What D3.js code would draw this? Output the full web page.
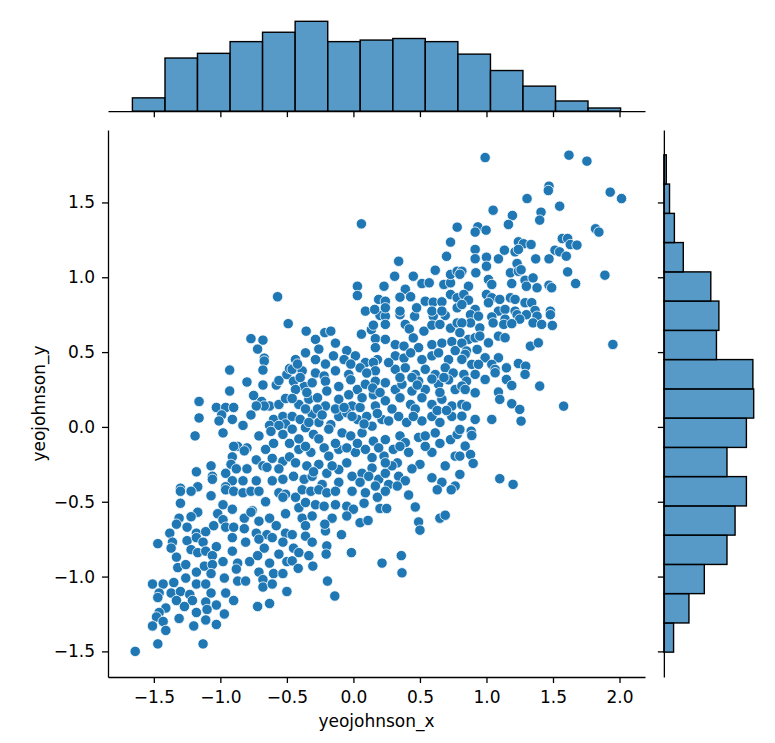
<!DOCTYPE html>
<html lang="en">
<head>
  <meta charset="UTF-8">
  <title>Joint plot yeojohnson</title>
  <script src="https://d3js.org/d3.v7.min.js"></script>
  <style>
    body { margin: 0; background: #fff; }
    svg { display: block; background: #fff; }
    .tick text { font-family: "DejaVu Sans", sans-serif; font-size: 17px; fill: #000; }
    .tick line, .domain { stroke: #000; }
    .label { font-family: "DejaVu Sans", sans-serif; font-size: 17px; fill: #000; }
  </style>
</head>
<body>
  <svg width="775" height="743"></svg>

  <script>
    // marginal histogram of x: bin edges and counts
    const xEdges = [-1.661, -1.416, -1.172, -0.927, -0.683, -0.438, -0.193, 0.051, 0.296, 0.540, 0.785, 1.030, 1.274, 1.519, 1.763, 2.008];
    const xCounts = [17, 68, 74, 89, 101, 115, 89, 91, 93, 89, 73, 52, 32, 13, 4];

    // marginal histogram of y: bin edges (bottom to top) and counts
    const yEdges = [-1.505, -1.310, -1.114, -0.919, -0.723, -0.528, -0.332, -0.137, 0.059, 0.254, 0.450, 0.645, 0.841, 1.036, 1.232, 1.427, 1.623, 1.818];
    const yCounts = [12, 31, 50, 78, 88, 102, 78, 102, 111, 110, 65, 68, 58, 24, 13, 7, 3];

    const xTicks = [-1.5, -1.0, -0.5, 0.0, 0.5, 1.0, 1.5, 2.0];
    const yTicks = [-1.5, -1.0, -0.5, 0.0, 0.5, 1.0, 1.5];

    // scatter points, by region
    const ptsUpperLeft = [
      [-0.57,0.87],
      [-0.49,0.69],[-0.77,0.59],[-0.68,0.58],[-0.72,0.52],[-0.67,0.46],[-0.67,0.44],[-0.93,0.38],[-0.68,0.38],
      [-0.80,0.30],[-0.68,0.28],[-0.58,0.28],[-0.56,0.31],[-0.50,0.35],[-0.48,0.39],[-0.93,0.24],[-0.75,0.21],
      [-1.16,0.17],[-1.03,0.13],[-0.96,0.13],[-0.90,0.13],[-0.69,0.17],[-0.63,0.14],[-0.67,0.14],[-0.56,0.15],
      [-0.73,0.14],[-0.51,0.19],[-0.99,0.08],[-1.01,0.04],[-0.91,0.05],[-0.77,0.08],[-1.16,0.06],[-0.83,0.01],
      [-0.60,0.05],[-0.53,0.07],[-0.51,0.02],[-0.63,0.01],[-0.56,0.01],[-0.98,-0.04],[-1.19,-0.06],[-0.71,-0.06],
      [-0.62,-0.03],[-0.53,-0.05],[-0.48,-0.11],[-0.87,-0.13],[-0.90,-0.13],[-0.80,-0.14],[-0.82,-0.16],[-0.66,-0.15],
      [-0.60,-0.11],[-0.91,-0.20],[-0.73,-0.22],[-0.61,-0.21],[-0.53,-0.23],[-0.48,-0.20],[-1.07,-0.26],[-0.92,-0.25],
      [-0.88,-0.28],[-0.80,-0.28],[-0.68,-0.26],[-0.65,-0.27],[-0.56,-0.28],[-1.18,-0.30],[-1.06,-0.33],[-1.06,-0.35],
      [-0.96,-0.31],[-0.91,-0.36],[-0.83,-0.36],[-0.73,-0.36],[-0.61,-0.36],[-0.53,-0.35],[-1.30,-0.41],[-1.17,-0.40],
      [-0.96,-0.40]
    ];

    const ptsLowerLeft = [
      [-1.30,-0.43],[-1.22,-0.43],[-1.07,-0.46],[-0.96,-0.42],[-0.90,-0.43],[-0.83,-0.44],[-0.77,-0.43],[-0.71,-0.43],
      [-0.56,-0.44],[-0.51,-0.45],[-1.30,-0.51],[-0.98,-0.52],[-0.91,-0.55],[-0.76,-0.56],[-0.66,-0.50],[-0.53,-0.47],
      [-1.17,-0.57],[-1.22,-0.60],[-1.31,-0.61],[-1.33,-0.65],[-1.02,-0.58],[-0.98,-0.62],[-0.82,-0.61],[-0.77,-0.57],
      [-0.71,-0.63],[-0.63,-0.61],[-0.51,-0.58],[-1.38,-0.71],[-1.25,-0.67],[-1.18,-0.71],[-1.11,-0.70],[-1.05,-0.66],
      [-0.96,-0.67],[-0.90,-0.67],[-0.82,-0.68],[-0.73,-0.71],[-0.65,-0.72],[-0.58,-0.66],[-0.51,-0.71],[-1.47,-0.78],
      [-1.36,-0.77],[-1.37,-0.81],[-1.25,-0.76],[-1.18,-0.74],[-1.13,-0.77],[-1.03,-0.80],[-0.91,-0.74],[-0.81,-0.77],
      [-0.71,-0.75],[-0.67,-0.81],[-0.61,-0.74],[-0.53,-0.77],[-1.33,-0.87],[-1.22,-0.82],[-1.17,-0.84],[-1.11,-0.83],
      [-1.06,-0.86],[-0.98,-0.90],[-0.91,-0.83],[-0.87,-0.91],[-0.78,-0.90],[-0.72,-0.86],[-0.63,-0.91],[-0.56,-0.85],
      [-0.50,-0.90],[-1.32,-0.94],[-1.26,-0.92],[-1.18,-0.97],[-1.12,-0.93],[-1.06,-0.92],[-0.88,-0.95],[-0.71,-0.97],
      [-1.07,-0.98],[-0.97,-1.01],[-0.87,-1.03],[-0.81,-1.03],[-0.68,-1.02],[-0.60,-0.98],[-0.53,-0.98],[-1.51,-1.05],
      [-1.43,-1.05],[-1.35,-1.04],[-1.26,-1.01],[-1.18,-1.05],[-1.11,-1.05],[-1.46,-1.11],[-1.37,-1.11],[-1.30,-1.10],
      [-1.23,-1.12],[-1.07,-1.11],[-0.96,-1.11],[-0.90,-1.16],[-0.68,-1.07],[-0.61,-1.05],[-0.50,-1.10],[-1.47,-1.14],
      [-1.33,-1.16],[-1.21,-1.16],[-1.11,-1.17],[-1.03,-1.19],[-1.41,-1.21],[-1.27,-1.20],[-1.18,-1.24],[-1.10,-1.22],
      [-0.97,-1.25],[-1.46,-1.24],[-1.48,-1.27],[-1.51,-1.33],[-1.43,-1.30],[-1.41,-1.36],[-1.31,-1.28],[-1.20,-1.33],
      [-1.11,-1.29],[-1.03,-1.32],[-0.72,-1.20],[-0.63,-1.18],[-1.47,-1.45],[-1.13,-1.45],[-1.64,-1.50]
    ];

    const ptsCentre = [
      [0.20,0.745],[0.24,0.74],[0.35,0.75],[0.46,0.74],[0.60,0.74],[0.69,0.745],
      [-0.355,0.64],[-0.215,0.63],[-0.17,0.64],[0.06,0.62],[0.135,0.65],[0.15,0.68],[0.24,0.685],[0.39,0.685],
      [0.42,0.655],[0.53,0.64],[0.59,0.68],[0.65,0.685],[0.73,0.66],[0.78,0.695],
      [-0.285,0.585],[-0.26,0.52],[-0.135,0.56],[0.165,0.59],[0.24,0.585],[0.315,0.55],[0.38,0.54],[0.45,0.595],
      [0.49,0.53],[0.59,0.55],[0.665,0.56],[0.74,0.57],
      [-0.435,0.45],[-0.36,0.495],[-0.285,0.45],[-0.15,0.475],[-0.05,0.51],[0.015,0.475],[0.09,0.43],[0.165,0.53],
      [0.18,0.45],[0.315,0.475],[0.38,0.46],[0.43,0.495],[0.515,0.45],[0.59,0.475],[0.64,0.495],[0.715,0.45],[0.765,0.51],
      [-0.46,0.385],[-0.385,0.375],[-0.285,0.36],[-0.22,0.34],[-0.135,0.375],[-0.035,0.35],[0.05,0.395],[0.15,0.43],
      [0.165,0.375],[0.315,0.385],[0.39,0.395],[0.465,0.35],[0.54,0.385],[0.615,0.35],[0.69,0.395],[0.75,0.36],
      [-0.45,0.305],[-0.37,0.27],[-0.435,0.25],[-0.31,0.295],[-0.21,0.305],[-0.20,0.24],[-0.11,0.27],[-0.02,0.315],
      [0.03,0.25],[0.09,0.285],[0.165,0.305],[0.24,0.295],[0.315,0.25],[0.365,0.285],[0.44,0.24],[0.49,0.305],
      [0.54,0.25],[0.64,0.285],[0.715,0.315],[0.765,0.25],
      [-0.41,0.15],[-0.335,0.185],[-0.27,0.195],[-0.21,0.14],[-0.11,0.185],[-0.035,0.215],[-0.01,0.14],[0.05,0.13],
      [0.065,0.195],[0.15,0.215],[0.165,0.14],[0.24,0.175],[0.35,0.195],[0.43,0.15],[0.515,0.195],[0.59,0.15],
      [0.665,0.185],[0.74,0.14],
      [-0.46,0.07],[-0.40,0.05],[-0.31,0.085],[-0.26,0.03],[-0.17,0.015],[-0.11,0.07],[-0.05,0.095],[0.03,0.05],
      [0.10,0.07],[0.14,0.005],[0.215,0.05],[0.265,0.04],[0.34,0.07],[0.40,0.03],[0.515,0.04],[0.59,0.07],
      [0.65,0.03],[0.74,0.07],
      [-0.46,-0.015],[-0.36,-0.005],[-0.30,-0.05],[-0.185,-0.015],[-0.085,-0.04],[-0.02,-0.06],[0.065,-0.04],
      [0.15,-0.095],[0.24,-0.085],[0.35,-0.06],[0.39,-0.105],[0.49,-0.07],[0.54,-0.06],[0.615,-0.04],[0.73,-0.085],
      [0.78,-0.05],
      [-0.41,-0.15],[-0.32,-0.17],[-0.22,-0.14],[-0.185,-0.195],[-0.11,-0.15],[0.015,-0.17],[0.09,-0.15],[0.14,-0.205],
      [0.23,-0.195],[0.30,-0.15],[0.33,-0.24],[0.50,-0.25],[0.59,-0.17],[0.69,-0.26],[0.765,-0.195],
      [-0.435,-0.24],[-0.35,-0.26],[-0.26,-0.25],[-0.20,-0.31],[-0.11,-0.285],[-0.05,-0.24],[-0.01,-0.33],[0.065,-0.31],
      [0.14,-0.275],[0.19,-0.35],[0.24,-0.31],[0.29,-0.26],[0.34,-0.33],[0.39,-0.36],[0.59,-0.34],[0.665,-0.37],
      [-0.45,-0.33],[-0.37,-0.35],[-0.31,-0.33],[-0.235,-0.385],[-0.11,-0.37],[0.05,-0.37],[0.165,-0.395],[0.265,-0.385],
      [0.33,-0.395],[0.765,-0.395]
    ];

    // second pass over the dense centre, overlapping points
    const ptsCentreExtra = [
      [-0.42,0.42],[-0.40,0.33],[-0.35,0.23],[-0.46,0.19],[-0.21,0.42],[-0.07,0.45],[-0.02,0.42],[0.10,0.36],
      [0.145,0.26],[0.20,0.23],[0.35,0.33],[0.44,0.33],[0.265,0.43],[0.48,0.28],[0.59,0.32],[0.68,0.33],
      [0.65,0.23],[-0.36,0.12],[-0.27,0.12],[-0.335,0.03],[-0.235,0.08],[-0.135,0.12],[-0.07,0.13],[-0.01,0.07],
      [0.18,0.09],[0.08,0.02],[0.29,0.12],[0.465,0.12],[0.63,0.11],[0.70,0.11],[0.45,0.07],[-0.41,-0.08],
      [-0.26,-0.08],[-0.135,-0.11],[-0.36,-0.13],[-0.05,-0.14],[0.03,-0.11],[0.19,-0.14],[0.35,-0.13],[0.415,-0.17],
      [0.65,-0.11],[0.54,-0.13],[-0.30,-0.30],[-0.16,-0.26],[0.115,-0.33],[0.24,-0.24],[0.44,-0.28]
    ];

    const ptsLowerCentre = [
      [-0.435,-0.47],[-0.385,-0.42],[-0.32,-0.43],[-0.26,-0.42],[-0.20,-0.44],[-0.135,-0.43],[-0.01,-0.43],[0.09,-0.44],
      [0.18,-0.47],[0.24,-0.43],[0.415,-0.455],[0.63,-0.42],[0.735,-0.42],
      [-0.41,-0.54],[-0.36,-0.505],[-0.285,-0.52],[-0.22,-0.53],[-0.135,-0.52],[-0.05,-0.53],[0.0,-0.55],[0.08,-0.51],
      [0.20,-0.545],[0.25,-0.545],[0.465,-0.535],
      [-0.385,-0.61],[-0.31,-0.595],[-0.16,-0.61],[-0.05,-0.595],[0.05,-0.64],[0.11,-0.625],[0.49,-0.635],[0.50,-0.69],
      [0.65,-0.61],[0.69,-0.59],
      [-0.46,-0.72],[-0.36,-0.66],[-0.36,-0.73],[-0.21,-0.695],[-0.215,-0.65],[-0.09,-0.72],
      [-0.45,-0.81],[-0.41,-0.84],[-0.31,-0.77],[-0.335,-0.86],[-0.20,-0.795],[-0.205,-0.85],[-0.015,-0.84],
      [-0.46,-0.895],[-0.415,-0.945],[-0.305,-0.93],[0.215,-0.91],[0.36,-0.86],[0.365,-0.975],
      [-0.195,-1.03],[-0.14,-1.13]
    ];

    const ptsUpperCentre = [
      [0.06,1.357],[0.78,1.335],[0.73,1.235],[0.70,1.14],[0.34,1.107],[0.615,1.047],[0.31,1.007],[0.45,1.007],
      [0.515,0.958],[0.57,0.963],[0.03,0.94],[0.03,0.878],[0.23,0.94],[0.39,0.92],[0.68,0.952],[0.73,0.963],
      [0.73,1.019],[0.78,1.04],[0.19,0.852],[0.24,0.84],[0.35,0.867],[0.43,0.87],[0.54,0.84],[0.60,0.834],
      [0.665,0.836],[0.73,0.885],[0.78,0.863],[0.09,0.774],[0.16,0.785],[0.24,0.796],[0.35,0.774],[0.475,0.796],
      [0.59,0.774],[0.665,0.774],[0.78,0.796]
    ];

    const ptsUpperRight = [
      [0.99,1.80],[1.62,1.816],[1.755,1.776],[1.47,1.609],[1.465,1.58],[1.93,1.569],[2.015,1.526],[1.305,1.526],
      [1.55,1.475],[1.05,1.448],[1.195,1.413],[1.165,1.353],[1.41,1.435],[1.40,1.382],[0.935,1.337],[0.915,1.302],
      [0.997,1.315],[1.82,1.324],[1.845,1.302],[1.24,1.237],[1.278,1.224],[1.335,1.219],[1.57,1.259],[1.61,1.259],
      [1.63,1.219],[1.68,1.215],[1.515,1.181],[1.55,1.17],[1.60,1.141],[0.915,1.186],[1.135,1.181],[1.215,1.17],
      [1.24,1.186],[0.915,1.124],[1.0,1.134],[1.09,1.123],[1.37,1.123],[1.47,1.123],[1.23,1.092],[1.0,1.074],
      [0.815,1.04],[0.80,1.02],[0.92,1.03],[1.18,1.03],[1.24,1.04],[1.26,1.05],[1.61,1.036],[1.89,1.014],
      [1.67,0.958],[0.865,0.94],[1.015,0.985],[1.04,0.952],[1.19,0.958],[1.29,0.98],[1.35,0.996],[1.30,0.94],
      [1.38,0.93],[1.47,0.947],[1.49,0.93],[0.83,0.885],[0.865,0.847],[1.0,0.885],[1.04,0.863],[1.10,0.852],
      [1.18,0.863],[1.215,0.852],[1.29,0.83],[1.34,0.83],[0.815,0.818],[0.915,0.785],[1.015,0.83],[1.09,0.774],
      [1.14,0.785],[1.215,0.774],[1.365,0.778],[1.48,0.774]
    ];

    const ptsRight = [
      [0.88,0.75],[0.94,0.74],[1.04,0.735],[1.14,0.72],[1.23,0.75],[1.30,0.75],[1.38,0.74],[1.48,0.75],
      [1.25,0.72],[1.13,0.685],[1.05,0.695],[1.19,0.69],[1.35,0.695],[1.415,0.685],[1.495,0.678],[0.95,0.662],
      [0.88,0.695],[0.815,0.695],[0.80,0.63],
      [0.865,0.585],[0.915,0.596],[0.95,0.607],[1.015,0.562],[1.09,0.607],[1.14,0.596],[1.33,0.54],[1.39,0.562],
      [1.95,0.551],
      [0.815,0.56],[0.85,0.507],[0.84,0.485],[0.93,0.518],[0.99,0.462],[1.09,0.462],[1.24,0.424],[1.295,0.406],
      [1.29,0.351],
      [0.815,0.451],[0.89,0.418],[0.94,0.418],[1.04,0.418],[1.065,0.384],[1.15,0.395],[1.065,0.362],
      [0.83,0.351],[0.85,0.306],[0.915,0.351],[0.99,0.317],[0.815,0.273],[0.84,0.25],[0.915,0.228],[1.15,0.317],
      [1.19,0.277],[1.40,0.273],[1.09,0.233],[1.10,0.184],
      [0.815,0.15],[0.85,0.139],[0.815,0.072],[0.915,0.05],[1.04,0.05],[1.19,0.155],[1.25,0.117],[1.26,0.039],
      [1.58,0.139],
      [0.80,-0.017],[0.885,-0.028],[0.89,-0.057],[0.84,-0.128],[0.88,-0.184],[0.80,-0.195],[0.90,-0.244],[0.80,-0.317],
      [1.10,-0.346],[1.20,-0.384]
    ];

    const points = [].concat(ptsUpperLeft, ptsLowerLeft, ptsCentre, ptsCentreExtra, ptsLowerCentre,
                             ptsUpperCentre, ptsUpperRight, ptsRight);

    const blue = "#1f77b4";
    const svg = d3.select("svg");

    // layout, jointplot grid: 5 cells for the joint, 1 for each margin, gap 0.2 cell
    const joint = { left: 108, right: 645, top: 130, bottom: 677 };
    const cell = (joint.bottom - joint.top) / 5.8;
    const gap = cell * 0.2;
    const tickLen = 6;
    const lineW = 1.3;

    // matplotlib style 5% padding around data
    function padded(ext) {
      const p = (ext[1] - ext[0]) * 0.05;
      return [ext[0] - p, ext[1] + p];
    }

    const x = d3.scaleLinear().domain(padded(d3.extent(xEdges))).range([joint.left, joint.right]);
    const y = d3.scaleLinear().domain(padded(d3.extent(yEdges))).range([joint.bottom, joint.top]);

    const topBase = joint.top - gap;
    const topCount = d3.scaleLinear().domain([0, d3.max(xCounts) * 1.05]).range([topBase, topBase - cell]);
    const rightBase = joint.right + gap;
    const rightCount = d3.scaleLinear().domain([0, d3.max(yCounts) * 1.05]).range([rightBase, rightBase + cell]);

    const fmt = d3.format(".1f");

    function styleAxis(g) {
      g.select(".domain").attr("stroke-width", lineW);
      g.selectAll(".tick line").attr("stroke-width", lineW);
      g.selectAll(".tick text").attr("font-family", null).attr("font-size", null);
    }

    // top marginal histogram
    svg.append("g")
      .selectAll("rect")
      .data(xCounts)
      .enter().append("rect")
        .attr("x", (d, i) => x(xEdges[i]))
        .attr("width", (d, i) => x(xEdges[i + 1]) - x(xEdges[i]))
        .attr("y", d => topCount(d))
        .attr("height", d => topBase - topCount(d))
        .attr("fill", blue)
        .attr("fill-opacity", 0.75)
        .attr("stroke", "#000")
        .attr("stroke-width", 1.4);

    svg.append("g")
      .attr("transform", `translate(0,${topBase})`)
      .call(d3.axisBottom(x).tickValues(xTicks).tickSize(tickLen).tickSizeOuter(0).tickFormat(""))
      .call(styleAxis);

    // right marginal histogram
    svg.append("g")
      .selectAll("rect")
      .data(yCounts)
      .enter().append("rect")
        .attr("x", rightBase)
        .attr("width", d => rightCount(d) - rightBase)
        .attr("y", (d, i) => y(yEdges[i + 1]))
        .attr("height", (d, i) => y(yEdges[i]) - y(yEdges[i + 1]))
        .attr("fill", blue)
        .attr("fill-opacity", 0.75)
        .attr("stroke", "#000")
        .attr("stroke-width", 1.4);

    svg.append("g")
      .attr("transform", `translate(${rightBase},0)`)
      .call(d3.axisLeft(y).tickValues(yTicks).tickSize(tickLen).tickSizeOuter(0).tickFormat(""))
      .call(styleAxis);

    // joint scatter
    svg.append("g")
      .selectAll("circle")
      .data(points)
      .enter().append("circle")
        .attr("cx", d => x(d[0]))
        .attr("cy", d => y(d[1]))
        .attr("r", 5.2)
        .attr("fill", blue)
        .attr("stroke", "#fff")
        .attr("stroke-width", 0.8);

    // axes of the joint plot
    svg.append("g")
      .attr("transform", `translate(0,${joint.bottom})`)
      .call(d3.axisBottom(x).tickValues(xTicks).tickSize(tickLen).tickSizeOuter(0).tickPadding(8).tickFormat(fmt))
      .call(styleAxis);

    svg.append("g")
      .attr("transform", `translate(${joint.left},0)`)
      .call(d3.axisLeft(y).tickValues(yTicks).tickSize(tickLen).tickSizeOuter(0).tickPadding(7).tickFormat(fmt))
      .call(styleAxis);

    svg.append("text")
      .attr("class", "label")
      .attr("x", (joint.left + joint.right) / 2)
      .attr("y", 727)
      .attr("text-anchor", "middle")
      .text("yeojohnson_x");

    svg.append("text")
      .attr("class", "label")
      .attr("transform", `translate(45,${(joint.top + joint.bottom) / 2}) rotate(-90)`)
      .attr("text-anchor", "middle")
      .text("yeojohnson_y");
  </script>
</body>
</html>
